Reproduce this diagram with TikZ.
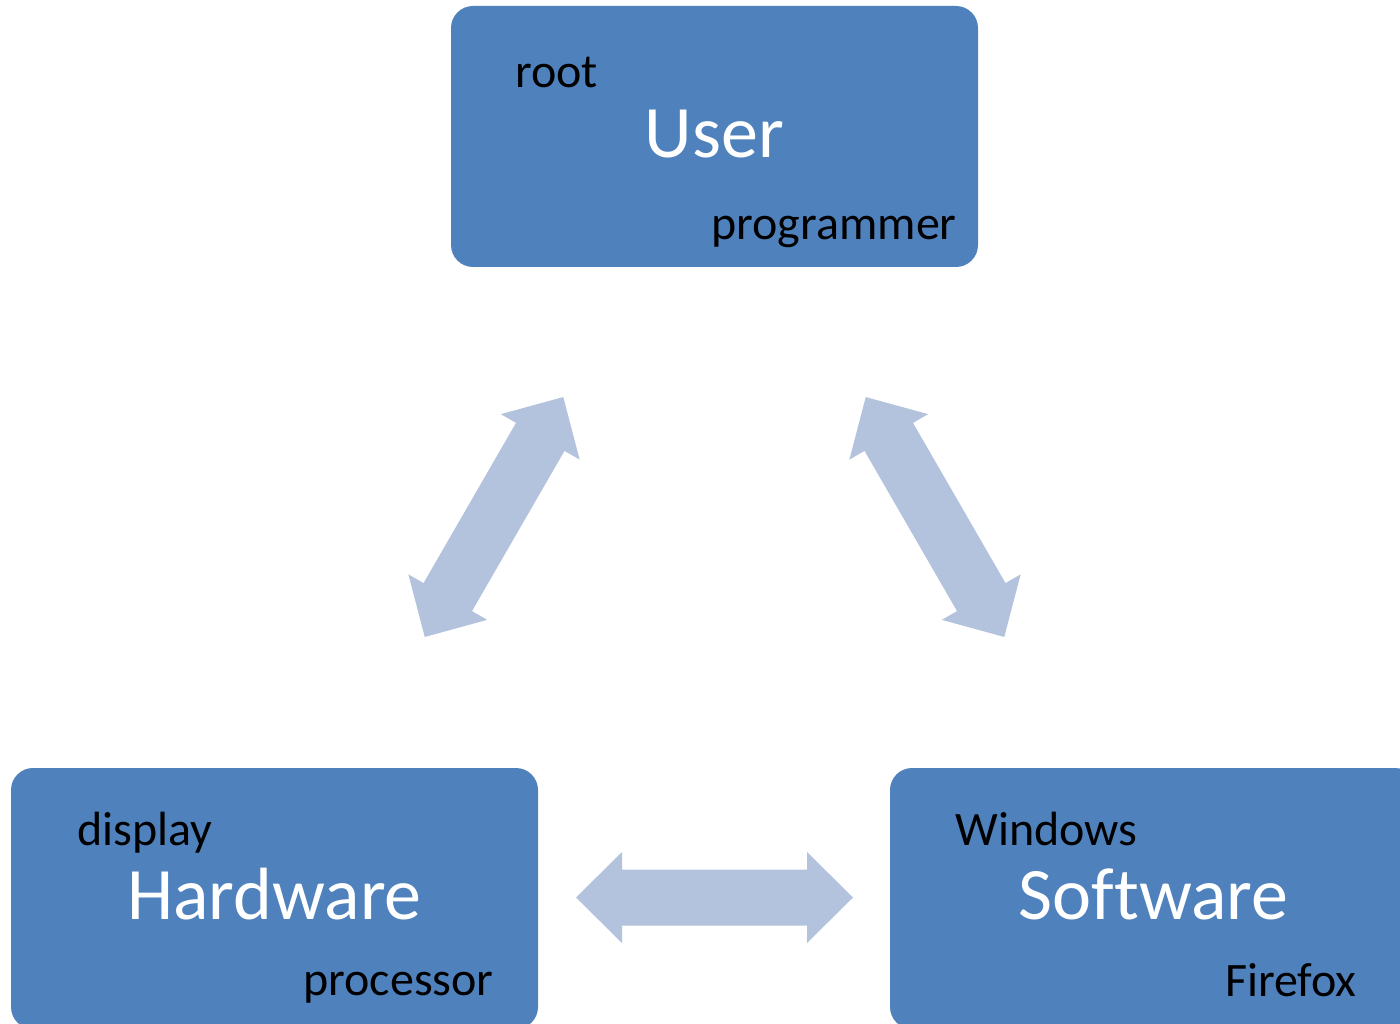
\documentclass[tikz,border=0pt]{standalone}
\usepackage{fontspec}
\setmainfont{Carlito}[Ligatures=NoCommon]
\definecolor{boxblue}{HTML}{4F81BD}
\definecolor{arrowblue}{HTML}{B3C2DD}
\begin{document}
\begin{tikzpicture}[x=0.5pt,y=0.5pt,
  box/.style={fill=boxblue, rounded corners=11pt, inner sep=0pt,
    minimum width=263.5pt, minimum height=130.5pt},
  title/.style={text=white, font=\fontsize{37}{41}\selectfont, inner sep=0pt},
  tag/.style={text=black, font=\fontsize{24}{28}\selectfont, inner sep=0pt},
  dblarrow/.pic={
    \fill[arrowblue] (-138.5,0) -- (-92.5,45.5) -- (-92.5,28) -- (92.5,28)
      -- (92.5,45.5) -- (138.5,0) -- (92.5,-45.5) -- (92.5,-28)
      -- (-92.5,-28) -- (-92.5,-45.5) -- cycle;
  }]
\useasboundingbox (0,0) rectangle (1400,1023);
\clip (0,0) rectangle (1400,1023);

% the three boxes
\node[box] (user) at (714.5,886.5) {};
\node[box] (hw)   at (274.5,124.5) {};
\node[box] (sw)   at (1153.5,124.5) {};

% box texts
\node[title, anchor=base] (usertitle) at (714.5,865) {User};
\node[tag, anchor=base west] (root) at (515,935) {root};
\node[tag, anchor=base east] (prog) at (957,783) {programmer};

\node[title, anchor=base] (hwtitle) at (274.5,104) {Hardware};
\node[tag, anchor=base west] (disp) at (77,178) {display};
\node[tag, anchor=base east] (proc) at (494,28) {processor};

\node[title, anchor=base] (swtitle) at (1153.5,104) {Software};
\node[tag, anchor=base west] (win) at (955,178) {Windows};
\node[tag, anchor=base east] (ff) at (1357,27) {Firefox};

% two-headed arrows between the boxes
\pic[rotate=60]  (uh) at (494,506)   {dblarrow};
\pic[rotate=120] (us) at (935,506)   {dblarrow};
\pic             (hs) at (714.5,125.5) {dblarrow};
\end{tikzpicture}
\end{document}
